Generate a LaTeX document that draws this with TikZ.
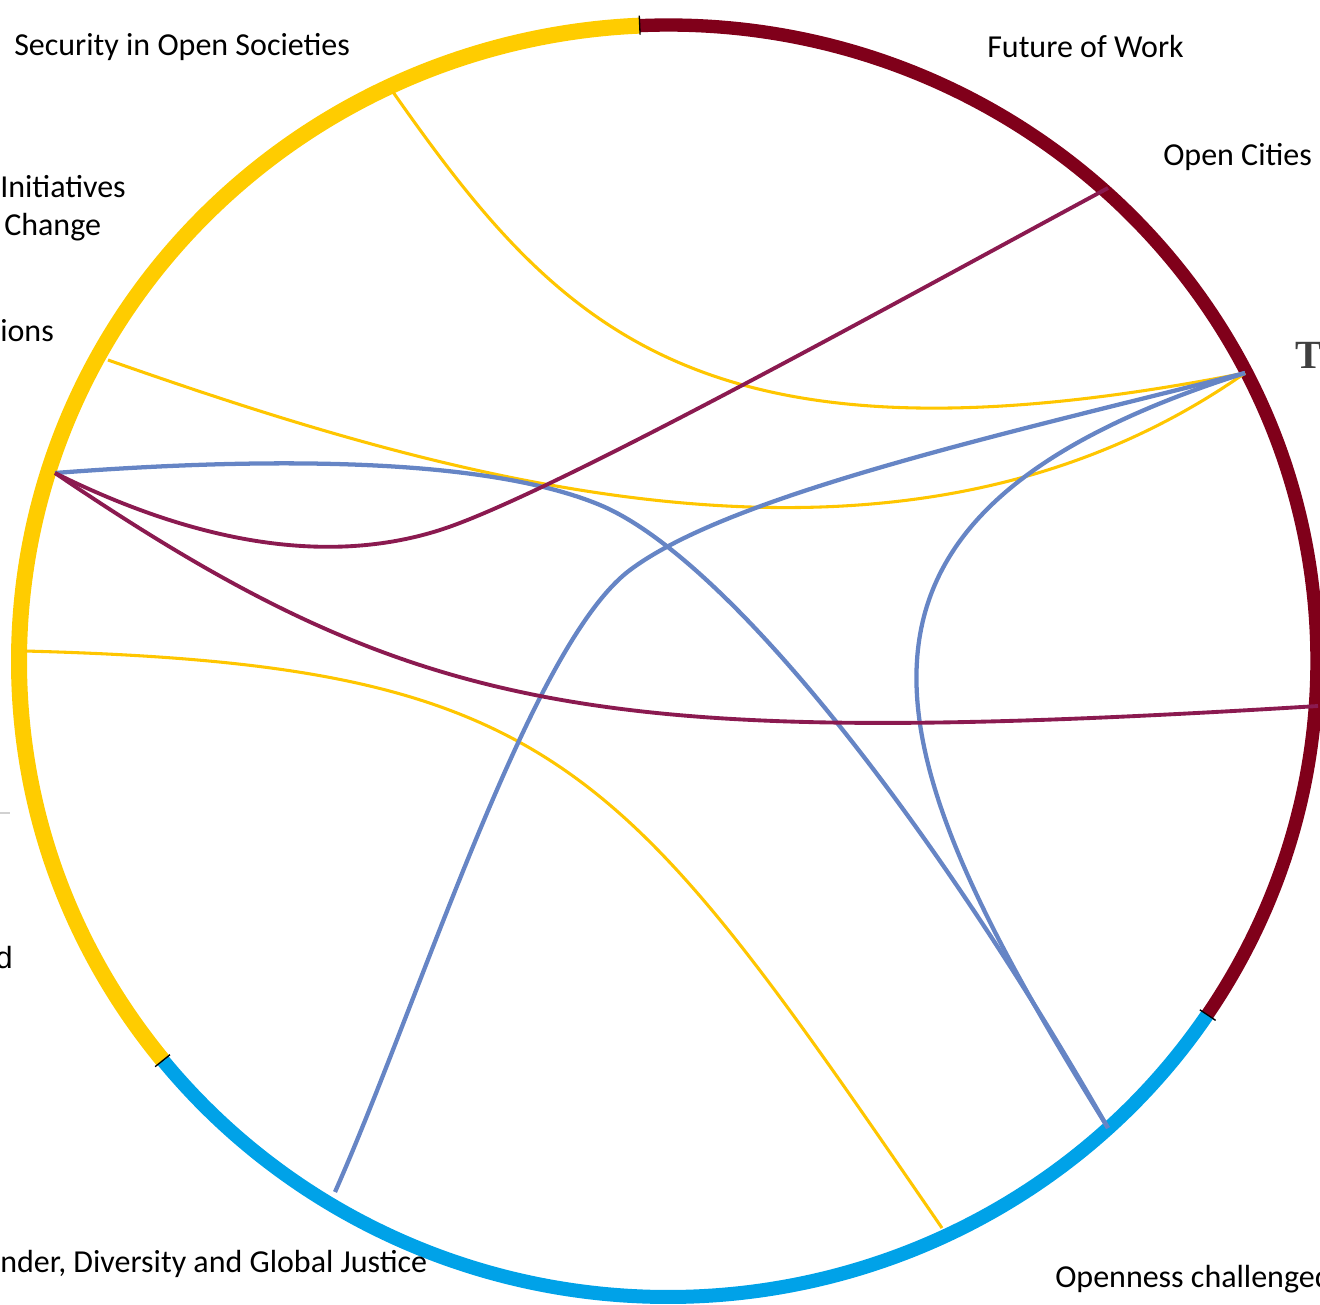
\documentclass[tikz,border=0pt]{standalone}
\usepackage{fontspec}
\setmainfont{Carlito}
\newfontfamily\arialfont{Liberation Sans}
\newfontfamily\titlefont{Liberation Serif}
\usetikzlibrary{calc}

\definecolor{ringyellow}{RGB}{255,204,0}
\definecolor{ringred}{RGB}{128,0,26}
\definecolor{ringblue}{RGB}{0,162,232}
\definecolor{chordyellow}{RGB}{255,198,0}
\definecolor{chordblue}{RGB}{102,133,197}
\definecolor{chordplum}{RGB}{139,26,80}
\definecolor{titlegray}{RGB}{64,64,64}

\begin{document}
\begin{tikzpicture}[x=0.75pt,y=0.75pt,yscale=-1,xscale=1,
  ring/.style={line width=#1},
  ylink/.style={color=chordyellow,line width=2.3pt},
  blink/.style={color=chordblue,line width=3.2pt},
  plink/.style={color=chordplum,line width=2.9pt},
  lbl/.style={anchor=base west,inner sep=0pt,font=\fontsize{24}{29}\selectfont}]
\useasboundingbox (0,0) rectangle (1320,1304);
\clip (0,0) rectangle (1320,1304);

\coordinate (ctr) at (668,661);

%Shape: Arcs of the ring
\draw [ring=12pt,color=ringyellow] ($(ctr)+(141.1:649 and 636)$) arc [start angle=141.1,end angle=267.5,x radius=649,y radius=636];
\draw [ring=10pt,color=ringred] ($(ctr)+(267.5:649 and 636)$) arc [start angle=267.5,end angle=393.8,x radius=649,y radius=636];
\draw [ring=10.5pt,color=ringblue] ($(ctr)+(33.8:649 and 636)$) arc [start angle=33.8,end angle=141.1,x radius=649,y radius=636];
%Shape: ticks between the arcs
\foreach \a in {267.5,141.1,33.8}
  \draw [line width=1pt] ($(ctr)+(\a:640 and 627)$) -- ($(ctr)+(\a:659 and 646)$);

%ends of the links
\coordinate (secA) at (393,92);
\coordinate (initA) at (108,360);
\coordinate (hubL) at (55,473);
\coordinate (leftY) at (25,651);
\coordinate (gdgj) at (335,1192);
\coordinate (openA) at (942,1228);
\coordinate (openB) at (1108,1128);
\coordinate (hubR) at (1245,373);
\coordinate (city) at (1108,188);
\coordinate (farR) at (1318,706);

%yellow links
\draw [ylink] (secA) .. controls (560,330) and (700,480) .. (hubR);
\draw [ylink] (initA) .. controls (450,480) and (900,615) .. (hubR);
\draw [ylink] (leftY) .. controls (560,665) and (620,760) .. (openA);
%blue links
\draw [blink] (hubL) .. controls (250,458) and (480,455) .. (600,505) .. controls (720,555) and (920,800) .. (openB);
\draw [blink] (hubR) .. controls (1000,435) and (730,495) .. (630,570) .. controls (530,645) and (420,1000) .. (gdgj);
\draw [blink] (hubR) .. controls (780,520) and (880,760) .. (openB);
%plum links
\draw [plink] (hubL) .. controls (200,545) and (330,565) .. (440,530) .. controls (550,495) and (900,300) .. (city);
\draw [plink] (hubL) .. controls (420,720) and (600,750) .. (farR);

\draw [color=black!18,line width=0.8pt] (0,813) -- (10,813);

% Text Node
\node [lbl] (lsec) at (14,55) {Security in Open Societies};
% Text Node
\node [lbl] (lfow) at (987,57) {Future of Work};
% Text Node
\node [lbl] (lcity) at (1163,165) {Open Cities};
% Text Node
\node [lbl] (linit) at (0,197) {Initiatives};
% Text Node
\node [lbl] (lchg) at (4,235) {Change};
% Text Node
\node [lbl] (lions) at (0,341) {ions};
% Text Node
\node [lbl,anchor=base east,font=\arialfont\fontsize{23}{28}\selectfont] (ld) at (13,968) {d};
% Text Node
\node [lbl] (lgdgj) at (0,1272) {nder, Diversity and Global Justice};
% Text Node
\node [lbl] (lopen) at (1055,1287) {Openness challenged};
% Text Node
\node [lbl,font=\titlefont\bfseries\fontsize{30}{36}\selectfont,text=titlegray] (ltitle) at (1295,368) {T};

\end{tikzpicture}
\end{document}
